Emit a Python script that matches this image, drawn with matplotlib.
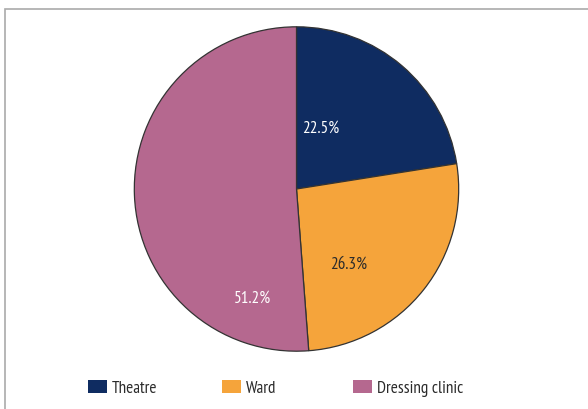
import matplotlib.pyplot as plt
from matplotlib.patches import Patch, Rectangle

plt.rcParams['font.family'] = ['PT Sans Narrow', 'Roboto Condensed', 'DejaVu Sans']

categories = ['Theatre', 'Ward', 'Dressing clinic']
shares = [22.5, 26.3, 51.2]
colors = ['#0f2c61', '#f5a43b', '#b5688f']
label_colors = ['white', '#2b2b2b', 'white']
# label placement (fraction of radius) as in the original
label_xy = [(0.150, 0.380), (0.322, -0.460), (-0.273, -0.672)]

W, H = 588, 410
fig = plt.figure(figsize=(W / 100, H / 100), dpi=100)

# outer frame
fig.add_artist(Rectangle((5.3 / W, -0.05), 1.2, 1 - 10.3 / H + 0.05,
                         transform=fig.transFigure, fill=False,
                         edgecolor='#aaaaaa', linewidth=1.2))

cx, cy, r = 296.5, 190, 163
ax = fig.add_axes([(cx - r) / W, (H - cy - r) / H, 2 * r / W, 2 * r / H])
wedges, _ = ax.pie(shares, colors=colors, startangle=90, counterclock=False,
                   radius=1, wedgeprops=dict(edgecolor='#333333', linewidth=0.9))
ax.set_xlim(-1.005, 1.005)
ax.set_ylim(-1.005, 1.005)
ax.set_aspect('equal')
ax.axis('off')

for v, (x, y), c in zip(shares, label_xy, label_colors):
    ax.text(x, y, f'{v:.1f}%', ha='center', va='center', color=c, fontsize=12.3)

# legend entries at fixed positions along the bottom
leg_x = [88, 222, 353]
for name, col, x in zip(categories, colors, leg_x):
    leg = fig.legend([Patch(facecolor=col, edgecolor='none')], [name],
                     loc='center left', bbox_to_anchor=(x / W, 1 - 389 / H),
                     frameon=False, fontsize=12.3, handlelength=1.1,
                     handleheight=0.78, handletextpad=0.3, borderpad=0,
                     borderaxespad=0)
    for t in leg.get_texts():
        t.set_color('#2b2b2b')

fig.savefig('out.png', dpi=100)
